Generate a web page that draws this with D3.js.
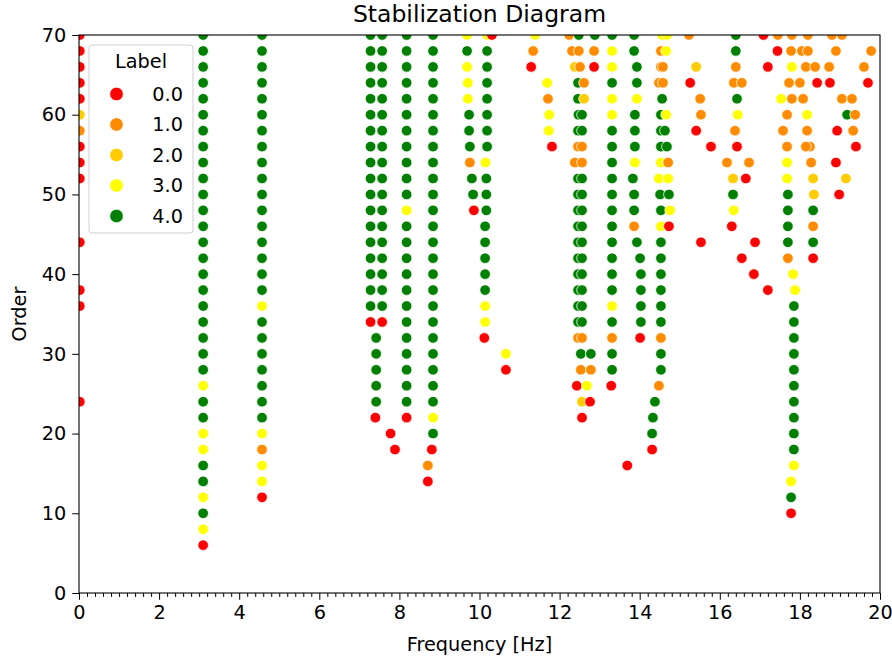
<!DOCTYPE html>
<html>
<head>
<meta charset="utf-8">
<script src="https://cdn.jsdelivr.net/npm/d3@7"></script>
<style>
  body { margin: 0; background: #fff; }
  text { font-family: "DejaVu Sans", sans-serif; fill: #000; }
</style>
</head>
<body>
<svg id="chart" width="892" height="660"></svg>
<script>
// Stability labels (0 = unstable ... 4 = fully stable) and their colours
const labelNames = ["0.0", "1.0", "2.0", "3.0", "4.0"];
const labelColors = ["#ff0000", "#ff8c00", "#ffcc00", "#ffff00", "#008000"];

const xTickValues = [0, 2, 4, 6, 8, 10, 12, 14, 16, 18, 20];
const yTickValues = [0, 10, 20, 30, 40, 50, 60, 70];

// Poles as [frequency (Hz), model order, label], grouped by frequency band
const polesNear0 = [
  [0.02,70,0],[0.02,68,0],[0.02,66,0],[0.02,64,0],[0.02,62,0],[0.02,60,2],[0.02,58,1],
  [0.02,56,0],[0.02,54,0],[0.02,52,0],[0.02,44,0],[0.02,38,0],[0.02,36,0],[0.02,24,0]
];

const poles3Hz = [
  [3.10,70,4],[3.10,68,4],[3.10,66,4],[3.10,64,4],[3.10,62,4],[3.10,60,4],[3.10,58,4],
  [3.10,56,4],[3.10,54,4],[3.10,52,4],[3.10,50,4],[3.10,48,4],[3.10,46,4],[3.10,44,4],
  [3.10,42,4],[3.10,40,4],[3.10,38,4],[3.10,36,4],[3.10,34,4],[3.10,32,4],[3.10,30,4],
  [3.10,28,4],[3.10,26,3],[3.10,24,4],[3.10,22,4],[3.10,20,3],[3.10,18,3],[3.10,16,4],
  [3.10,14,4],[3.10,12,3],[3.10,10,4],[3.10,8,3],[3.10,6,0]
];

const poles4Hz = [
  [4.57,70,4],[4.57,68,4],[4.57,66,4],[4.57,64,4],[4.57,62,4],[4.57,60,4],[4.57,58,4],
  [4.57,56,4],[4.57,54,4],[4.57,52,4],[4.57,50,4],[4.57,48,4],[4.57,46,4],[4.57,44,4],
  [4.57,42,4],[4.57,40,4],[4.57,38,4],[4.57,36,3],[4.57,34,4],[4.57,32,4],[4.57,30,4],
  [4.57,28,4],[4.57,26,4],[4.57,24,4],[4.57,22,4],[4.57,20,3],[4.57,18,1],[4.57,16,3],
  [4.57,14,3],[4.57,12,0]
];

const poles7Hz = [
  [7.28,70,4],[7.28,68,4],[7.28,66,4],[7.28,64,4],[7.28,62,4],[7.28,60,4],[7.28,58,4],
  [7.28,56,4],[7.28,54,4],[7.28,52,4],[7.28,50,4],[7.28,48,4],[7.28,46,4],[7.28,44,4],
  [7.28,42,4],[7.28,40,4],[7.28,38,4],[7.28,36,4],[7.28,34,0],
  [7.57,70,4],[7.57,68,4],[7.57,66,4],[7.57,64,4],[7.57,62,4],[7.57,60,4],[7.57,58,4],
  [7.57,56,4],[7.57,54,4],[7.57,52,4],[7.57,50,4],[7.57,48,4],[7.57,46,4],[7.57,44,4],
  [7.57,42,4],[7.57,40,4],[7.57,38,4],[7.57,36,4],[7.57,34,0],
  [7.42,32,4],[7.42,30,4],[7.42,28,4],[7.42,26,4],[7.42,24,4],[7.40,22,0],
  [7.78,20,0],[7.89,18,0]
];

const poles8Hz = [
  [8.18,70,4],[8.18,68,4],[8.18,66,4],[8.18,64,4],[8.18,62,4],[8.18,60,4],[8.18,58,4],
  [8.18,56,4],[8.18,54,4],[8.18,52,4],[8.18,50,4],[8.18,48,3],[8.18,46,4],[8.18,44,4],
  [8.18,42,4],[8.18,40,4],[8.18,38,4],[8.18,36,4],[8.18,34,4],[8.18,32,4],[8.18,30,4],
  [8.18,28,4],[8.18,26,4],[8.18,24,4],[8.18,22,0],
  [8.84,70,4],[8.84,68,4],[8.84,66,4],[8.84,64,4],[8.84,62,4],[8.84,60,4],[8.84,58,4],
  [8.84,56,4],[8.84,54,4],[8.84,52,4],[8.84,50,4],[8.84,48,4],[8.84,46,4],[8.84,44,4],
  [8.84,42,4],[8.84,40,4],[8.84,38,4],[8.84,36,4],[8.84,34,4],[8.84,32,4],[8.84,30,4],
  [8.84,28,4],[8.84,26,4],[8.84,24,4],[8.84,22,3],[8.84,20,4],[8.81,18,0],[8.71,16,1],
  [8.71,14,0]
];

const poles10Hz = [
  [9.69,70,3],[9.69,68,4],[9.69,66,3],[9.71,64,3],[9.71,62,3],[9.74,60,4],[9.74,58,4],
  [9.76,56,4],[9.76,54,1],[9.81,52,4],[9.84,50,4],[9.86,48,0],
  [10.19,70,3],[10.19,68,4],[10.19,66,4],[10.19,64,4],[10.19,62,4],[10.19,60,4],
  [10.19,58,4],[10.19,56,4],[10.15,54,3],[10.17,52,4],[10.17,50,4],[10.17,48,4],
  [10.14,46,4],[10.14,44,4],[10.14,42,4],[10.14,40,4],[10.14,38,4],[10.14,36,3],
  [10.14,34,3],[10.12,32,0],[10.31,70,0],[10.66,30,3],[10.66,28,0]
];

const poles11Hz = [
  [11.39,70,3],[11.34,68,1],[11.29,66,0],[11.69,64,3],[11.71,62,1],[11.74,60,3],
  [11.73,58,3],[11.81,56,0]
];

const poles12Hz = [
  [12.24,70,1],[12.48,70,4],[12.31,68,1],[12.48,68,1],[12.38,66,2],[12.51,66,1],
  [12.46,64,4],[12.61,64,1],[12.46,62,4],[12.61,62,2],[12.47,60,4],[12.56,60,4],
  [12.46,58,4],[12.56,58,4],[12.46,56,1],[12.56,56,1],[12.38,54,1],[12.56,54,1],
  [12.46,52,4],[12.56,52,4],[12.46,50,4],[12.56,50,4],[12.46,48,4],[12.56,48,4],
  [12.46,46,4],[12.56,46,4],[12.46,44,4],[12.56,44,4],[12.46,42,4],[12.56,42,4],
  [12.46,40,4],[12.56,40,4],[12.46,38,4],[12.56,38,4],[12.46,36,4],[12.56,36,4],
  [12.46,34,4],[12.56,34,4],[12.46,32,1],[12.56,32,1],[12.53,30,4],[12.78,30,4],
  [12.53,28,1],[12.78,28,1],[12.43,26,0],[12.68,26,3],[12.56,24,2],[12.76,24,0],
  [12.56,22,0],
  [12.88,70,4],[12.86,68,1],[12.86,66,0]
];

const poles13Hz = [
  [13.31,70,4],[13.31,68,3],[13.31,66,3],[13.31,64,4],[13.31,62,3],[13.31,60,3],
  [13.31,58,4],[13.31,56,4],[13.31,54,4],[13.31,52,4],[13.31,50,4],[13.31,48,4],
  [13.31,46,4],[13.31,44,4],[13.31,42,4],[13.31,40,4],[13.31,38,4],[13.31,36,3],
  [13.31,34,4],[13.31,32,1],[13.31,30,4],[13.31,28,4],[13.29,26,0],[13.69,16,0],
  [13.86,70,4],[13.86,68,4],[13.93,66,4],[13.93,64,4],[13.93,62,3],[13.88,60,4],
  [13.88,58,4],[13.88,56,4],[13.88,54,3],[13.83,52,4],[13.86,50,4],[13.86,48,4],
  [13.86,46,1],[13.93,44,4],[14.01,42,4],[14.03,40,4],[14.03,38,4],[14.03,36,4],
  [14.03,34,4],[14.01,32,0]
];

const poles14Hz = [
  [14.56,70,3],[14.68,70,3],[14.53,68,1],[14.66,68,3],[14.53,66,1],[14.58,66,1],
  [14.48,64,1],[14.58,64,1],[14.56,62,4],[14.53,60,4],[14.66,60,3],[14.53,58,4],
  [14.63,58,4],[14.53,56,4],[14.68,56,4],[14.53,54,3],[14.71,54,1],[14.48,52,3],
  [14.71,52,3],[14.51,50,4],[14.73,50,4],[14.53,48,4],[14.76,48,3],[14.53,46,3],
  [14.73,46,0],[14.53,44,4],[14.53,42,4],[14.53,40,4],[14.53,38,4],[14.53,36,4],
  [14.53,34,4],[14.53,32,1],[14.53,30,4],[14.53,28,4],[14.48,26,1],[14.38,24,4],
  [14.33,22,4],[14.31,20,4],[14.31,18,0]
];

const poles15Hz = [
  [15.23,70,1],[15.41,66,2],[15.26,64,0],[15.51,62,1],[15.53,60,1],[15.41,58,0],
  [15.78,56,0],[15.53,44,0]
];

const poles16Hz = [
  [16.40,70,4],[16.40,68,4],[16.40,66,1],[16.35,64,1],[16.55,64,1],[16.43,62,4],
  [16.45,60,3],[16.38,58,1],[16.43,56,0],[16.18,54,1],[16.73,54,1],[16.33,52,2],
  [16.65,52,0],[16.33,50,4],[16.35,48,3],[16.30,46,0],[16.88,44,0],[16.55,42,0],
  [16.85,40,0],[17.20,38,0],[17.09,70,0],[17.44,68,0],[17.20,66,0]
];

const poles18Hz = [
  [17.45,70,1],[17.80,70,1],[18.20,70,1],[18.80,70,1],[19.05,70,1],
  [17.78,68,1],[18.05,68,1],[18.20,68,1],[18.90,68,1],[19.78,68,1],
  [17.80,66,3],[18.15,66,1],[18.38,66,1],[18.73,66,1],[19.60,66,1],
  [17.73,64,1],[18.00,64,1],[18.43,64,0],[18.75,64,0],[19.70,64,0],
  [17.53,62,3],[17.80,62,1],[18.08,62,1],[19.05,62,1],[19.30,62,1],
  [17.68,60,1],[18.18,60,3],[19.18,60,4],[19.38,60,1],
  [17.58,58,1],[18.18,58,1],[18.93,58,0],[19.33,58,1],
  [17.68,56,1],[18.25,56,1],[18.15,56,1],[19.40,56,0],
  [17.68,54,3],[18.28,54,1],[18.90,54,0],
  [17.68,52,3],[18.33,52,2],[19.15,52,2],
  [17.70,50,4],[18.35,50,2],[18.98,50,0],
  [17.70,48,4],[18.33,48,4],[17.70,46,4],[18.33,46,1],
  [17.70,44,4],[18.33,44,4],[17.70,42,1],[18.33,42,0],
  [17.83,40,3],[17.88,38,3],
  [17.85,36,4],[17.85,34,4],[17.85,32,4],[17.85,30,4],[17.85,28,4],[17.85,26,4],
  [17.85,24,4],[17.85,22,4],[17.85,20,4],[17.85,18,4],
  [17.85,16,3],[17.78,14,3],[17.78,12,4],[17.78,10,0]
];

const poles = [].concat(polesNear0, poles3Hz, poles4Hz, poles7Hz, poles8Hz, poles10Hz,
  poles11Hz, poles12Hz, poles13Hz, poles14Hz, poles15Hz, poles16Hz, poles18Hz)
  .map(([freq, order, label]) => ({ freq, order, label }));

// ---- layout ----
const svg = d3.select("#chart");
const margin = { left: 79, right: 12, top: 35, bottom: 67 };
const W = 892, H = 660;
const plotW = W - margin.left - margin.right;
const plotH = H - margin.top - margin.bottom;

const x = d3.scaleLinear().domain([0, 20]).range([margin.left, margin.left + plotW]);
const y = d3.scaleLinear().domain([0, 70]).range([margin.top + plotH, margin.top]);
const color = d3.scaleOrdinal().domain([0, 1, 2, 3, 4]).range(labelColors);

const fontSize = 19.3;

svg.append("defs").append("clipPath").attr("id", "plot-clip")
  .append("rect").attr("x", margin.left).attr("y", margin.top)
  .attr("width", plotW).attr("height", plotH);

// points
svg.append("g").attr("clip-path", "url(#plot-clip)")
  .selectAll("circle").data(poles).join("circle")
  .attr("cx", d => x(d.freq))
  .attr("cy", d => y(d.order))
  .attr("r", 5.3)
  .attr("fill", d => color(d.label))
  .attr("stroke", "#fff")
  .attr("stroke-width", 0.8);

// axes
const minorTicks = d3.range(0, 101).map(i => i * 0.2).filter(v => v <= 20 && Math.abs(v / 2 - Math.round(v / 2)) > 1e-6);
const xAxis = d3.axisBottom(x).tickValues(xTickValues).tickFormat(d3.format("d"))
  .tickSize(6.8).tickPadding(5.5);
const xMinor = d3.axisBottom(x).tickValues(minorTicks).tickSize(3.9).tickFormat("");
const yAxis = d3.axisLeft(y).tickValues(yTickValues).tickFormat(d3.format("d"))
  .tickSize(6.8).tickPadding(6);

const gx = svg.append("g").attr("transform", `translate(0,${margin.top + plotH})`).call(xAxis);
svg.append("g").attr("transform", `translate(0,${margin.top + plotH})`).call(xMinor)
  .call(g => g.select(".domain").remove());
const gy = svg.append("g").attr("transform", `translate(${margin.left},0)`).call(yAxis);

[gx, gy].forEach(g => {
  g.select(".domain").remove();
  g.selectAll("text").attr("font-size", fontSize).attr("font-family", "DejaVu Sans").attr("fill", "#000");
  g.selectAll("line").attr("stroke", "#000").attr("stroke-width", 1);
});
svg.selectAll(".tick line").attr("stroke", "#000");

// frame
svg.append("rect").attr("x", margin.left).attr("y", margin.top)
  .attr("width", plotW).attr("height", plotH)
  .attr("fill", "none").attr("stroke", "#000").attr("stroke-width", 1.1);

// titles
svg.append("text").attr("x", margin.left + plotW / 2).attr("y", 22)
  .attr("text-anchor", "middle").attr("font-size", 23.5).text("Stabilization Diagram");
svg.append("text").attr("x", margin.left + plotW / 2).attr("y", 651)
  .attr("text-anchor", "middle").attr("font-size", fontSize).text("Frequency [Hz]");
svg.append("text").attr("transform", `translate(26,${margin.top + plotH / 2}) rotate(-90)`)
  .attr("text-anchor", "middle").attr("font-size", fontSize).text("Order");

// legend
const lg = svg.append("g").attr("transform", "translate(89,45)");
lg.append("rect").attr("width", 104).attr("height", 188).attr("rx", 3)
  .attr("fill", "#fff").attr("fill-opacity", 0.8)
  .attr("stroke", "#d0d0d0").attr("stroke-width", 1);
lg.append("text").attr("x", 52).attr("y", 23).attr("text-anchor", "middle")
  .attr("font-size", fontSize).text("Label");
const items = lg.selectAll("g.item").data(labelNames).join("g")
  .attr("class", "item")
  .attr("transform", (d, i) => `translate(0,${49 + i * 30.5})`);
items.append("circle").attr("cx", 27.5).attr("cy", 0).attr("r", 6.8)
  .attr("fill", (d, i) => labelColors[i]).attr("stroke", "#fff").attr("stroke-width", 0.8);
items.append("text").attr("x", 94).attr("y", 6.5).attr("text-anchor", "end")
  .attr("font-size", fontSize).text(d => d);
</script>
</body>
</html>
